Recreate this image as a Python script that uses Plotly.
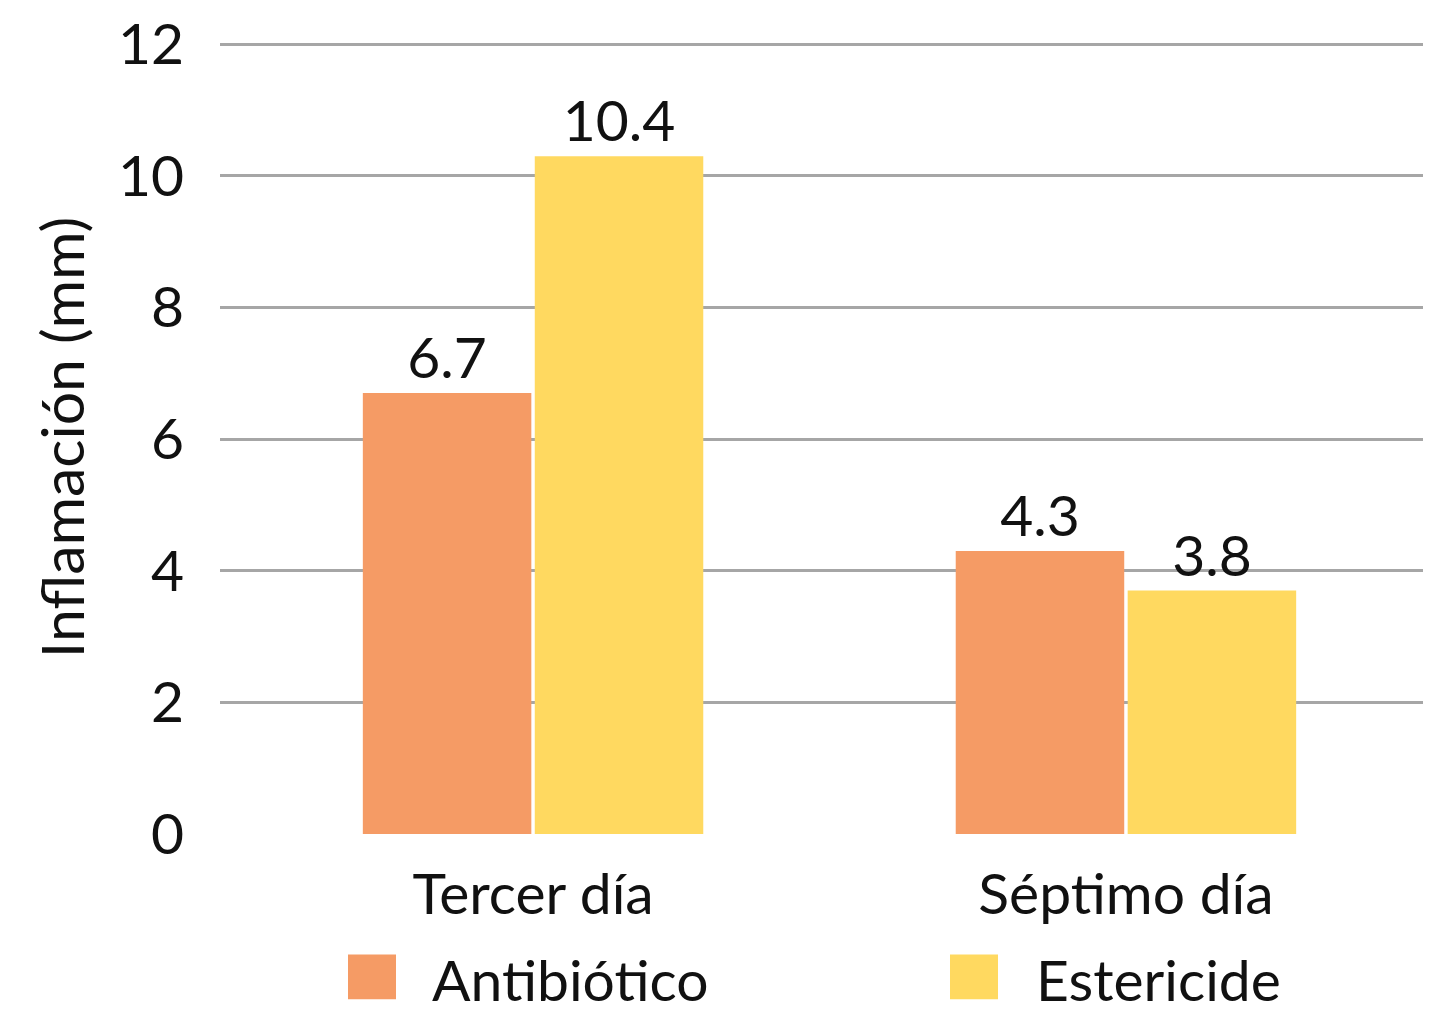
import plotly.graph_objects as go

categories = ["Tercer día", "Séptimo día"]
series_names = ["Antibiótico", "Estericide"]
antibiotico = [6.7, 4.3]
estericide = [10.3, 3.7]
antibiotico_labels = ["6.7", "4.3"]
estericide_labels = ["10.4", "3.8"]
y_ticks = [0, 2, 4, 6, 8, 10, 12]

colors = ["#F59B65", "#FFD960"]
FONT = "Lato"
FS = 57

W, H = 1431, 1024
OFF = 8  # page offset of the figure inside the browser
YMAX = 12.05
UNIT = 793 / 12.0
ML, MB = 212, 198
MT = round(H - MB - UNIT * YMAX)
PLOT_W = W - ML
PLOT_H = H - MT - MB


def px(sx):
    return (sx - OFF - ML) / PLOT_W


def py(sy):
    return (H - MB - (sy - OFF)) / PLOT_H


fig = go.Figure()
fig.add_trace(go.Bar(x=categories, y=antibiotico, name=series_names[0],
                     marker=dict(color=colors[0], line=dict(width=0)),
                     text=antibiotico_labels, textposition="outside",
                     textfont=dict(size=FS, color="#111", family=FONT),
                     cliponaxis=False, showlegend=False))
fig.add_trace(go.Bar(x=categories, y=estericide, name=series_names[1],
                     marker=dict(color=colors[1], line=dict(width=0)),
                     text=estericide_labels, textposition="outside",
                     textfont=dict(size=FS, color="#111", family=FONT),
                     cliponaxis=False, showlegend=False))

# custom legend (large swatches)
legend_items = [(348, 433), (950, 1037)]
for (sx, tx), name, col in zip(legend_items, series_names, colors):
    fig.add_shape(type="rect", xref="paper", yref="paper",
                  x0=px(sx), x1=px(sx + 48), y0=py(1000), y1=py(955),
                  fillcolor=col, line=dict(width=0))
    fig.add_annotation(xref="paper", yref="paper",
                       x=px(tx), y=py(980),
                       text=name, showarrow=False, xanchor="left", yanchor="middle",
                       xshift=-3,
                       font=dict(size=FS, color="#111", family=FONT))

fig.update_layout(
    width=W, height=H,
    margin=dict(l=ML, r=0, t=MT, b=MB),
    plot_bgcolor="white", paper_bgcolor="white",
    barmode="group", bargap=0.42, bargroupgap=0.02,
    font=dict(family=FONT, color="#111"),
    xaxis=dict(range=[-0.528, 1.528], showgrid=False, showline=False,
               tickfont=dict(size=FS, family=FONT, color="#111"),
               ticklabelstandoff=22),
    yaxis=dict(range=[0, YMAX], tickmode="array", tickvals=y_ticks,
               ticktext=[str(v) for v in y_ticks],
               ticklabeloverflow="allow",
               showgrid=True,
               gridcolor="#A6A6A6", gridwidth=3, zeroline=False, showline=False,
               tickfont=dict(size=FS, family=FONT, color="#111"),
               ticklabelstandoff=35,
               title=dict(text="Inflamación (mm)", font=dict(size=59, family=FONT, color="#111"),
                          standoff=14)),
)

fig.write_html("out.html")
